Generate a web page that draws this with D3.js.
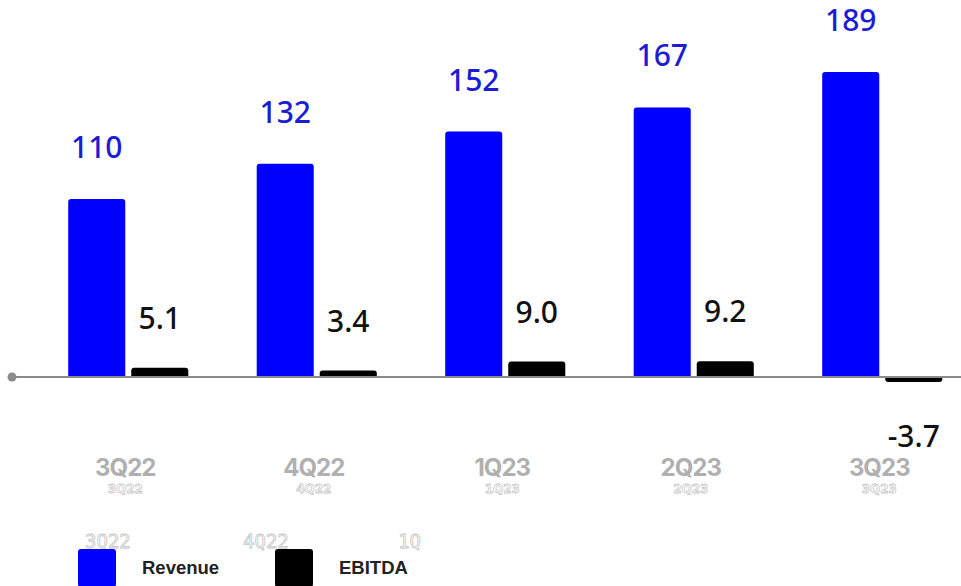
<!DOCTYPE html>
<html>
<head>
<meta charset="utf-8">
<script src="https://cdn.jsdelivr.net/npm/d3@7"></script>
<style>
  body { margin: 0; background: #fff; }
  svg { display: block; }
</style>
</head>
<body>
<div id="plot"></div>
<script>
// data
var quarters = ["3Q22", "4Q22", "1Q23", "2Q23", "3Q23"];
var seriesNames = ["Revenue", "EBITDA"];
var revenue = [110, 132, 152, 167, 189];
var ebitda = [5.1, 3.4, 9.0, 9.2, -3.7];
var ebitdaLabels = ["5.1", "3.4", "9.0", "9.2", "-3.7"];
var ghostLegendTicks = ["3Q22", "4Q22", "1Q"];

var colors = { Revenue: "#0000ff", EBITDA: "#000000" };

var width = 961, height = 586;
var baseY = 376;

var svg = d3.select("#plot")
  .append("svg")
    .attr("width", width)
    .attr("height", height);

// scales
var x0 = d3.scaleBand()
  .domain(quarters)
  .range([34, 976.5])
  .paddingInner(0.363)
  .paddingOuter(0.1815);

var x1 = d3.scaleBand()
  .domain(seriesNames)
  .range([0, x0.bandwidth()])
  .paddingInner(0.095);

var y = d3.scaleLinear()
  .domain([0, 189])
  .range([baseY, baseY - 304]);

var rows = quarters.map((q, i) => ({
  q: q, i: i,
  vals: [
    { key: "Revenue", v: revenue[i], label: String(revenue[i]) },
    { key: "EBITDA", v: ebitda[i], label: ebitdaLabels[i] }
  ]
}));

// rounded-end bar path
function barPath(x, w, v) {
  var y0 = y(0), y1 = y(v);
  var r = Math.min(3, Math.abs(y1 - y0) / 2);
  if (v >= 0) {
    return `M${x},${y0}V${y1 + r}Q${x},${y1} ${x + r},${y1}H${x + w - r}Q${x + w},${y1} ${x + w},${y1 + r}V${y0}Z`;
  }
  return `M${x},${y0}V${y1 - r}Q${x},${y1} ${x + r},${y1}H${x + w - r}Q${x + w},${y1} ${x + w},${y1 - r}V${y0}Z`;
}

var groups = svg.selectAll(".grp")
  .data(rows)
  .enter()
  .append("g")
    .attr("class", "grp")
    .attr("transform", d => "translate(" + x0(d.q) + ",0)");

groups.selectAll("path")
  .data(d => d.vals)
  .enter()
  .append("path")
    .attr("d", d => barPath(x1(d.key), x1.bandwidth(), d.v))
    .attr("fill", d => colors[d.key]);

// axis line + dot
svg.append("line")
  .attr("x1", 12).attr("x2", width)
  .attr("y1", baseY + 1).attr("y2", baseY + 1)
  .attr("stroke", "#8a8a8a")
  .attr("stroke-width", 2);
svg.append("circle")
  .attr("cx", 12).attr("cy", baseY + 1).attr("r", 4.5)
  .attr("fill", "#8a8a8a");

// value labels with white halo
groups.selectAll("text.val")
  .data(d => d.vals)
  .enter()
  .append("text")
    .attr("class", "val")
    .attr("x", d => x1(d.key) + x1.bandwidth() / 2)
    .attr("y", d => d.v >= 0 ? y(d.v) - (d.key === "Revenue" ? 41 : 39) : y(d.v) + 65)
    .attr("text-anchor", "middle")
    .attr("font-family", "'Noto Sans', 'Open Sans', sans-serif")
    .attr("font-size", 30)
    .attr("font-weight", 500)
    .attr("fill", d => d.key === "Revenue" ? "#1c1cd4" : "#111")
    .attr("stroke", "#fff")
    .attr("stroke-width", 6)
    .attr("stroke-linejoin", "round")
    .attr("paint-order", "stroke")
    .text(d => d.label);

// category labels
var xAxis = svg.append("g");

// ghost outlined labels under categories
xAxis.selectAll("text.ghost")
  .data(quarters)
  .enter()
  .append("text")
    .attr("class", "ghost")
    .attr("x", d => x0(d) + x0.bandwidth() / 2 - 3)
    .attr("y", 493)
    .attr("text-anchor", "middle")
    .attr("font-family", "'DejaVu Sans', sans-serif")
    .attr("font-weight", "bold")
    .attr("font-size", 12)
    .attr("fill", "#fff")
    .attr("stroke", "#c8c8c8")
    .attr("stroke-width", 0.8)
    .text(d => d);

xAxis.selectAll("text.cat")
  .data(quarters)
  .enter()
  .append("text")
    .attr("class", "cat")
    .attr("x", d => x0(d) + x0.bandwidth() / 2 - 3)
    .attr("y", 476)
    .attr("text-anchor", "middle")
    .attr("font-family", "Inter, 'Open Sans', sans-serif")
    .attr("font-weight", "bold")
    .attr("font-size", 24)
    .attr("letter-spacing", -1)
    .attr("fill", "#b0b0b0")
    .text(d => d);

// ghost ticks above legend
svg.selectAll("text.ghostleg")
  .data(ghostLegendTicks)
  .enter()
  .append("text")
    .attr("class", "ghostleg")
    .attr("x", (d, i) => [85, 243, 398][i])
    .attr("y", 548)
    .attr("font-family", "'DejaVu Sans Mono', monospace")
    .attr("font-size", 19)
    .attr("fill", "#fff")
    .attr("stroke", "#c4c4c4")
    .attr("stroke-width", 0.8)
    .text(d => d);

// legend
var legend = svg.selectAll(".leg")
  .data(seriesNames)
  .enter()
  .append("g")
    .attr("class", "leg")
    .attr("transform", (d, i) => "translate(" + (78 + i * 197) + ",549)");

legend.append("rect")
  .attr("width", 38)
  .attr("height", 38)
  .attr("rx", 3)
  .attr("fill", d => colors[d]);

legend.append("text")
  .attr("x", 64)
  .attr("y", 25)
  .attr("font-family", "'Liberation Sans', Arial, sans-serif")
  .attr("font-weight", "bold")
  .attr("font-size", 18.5)
  .attr("fill", "#222")
  .text(d => d);
</script>
</body>
</html>
